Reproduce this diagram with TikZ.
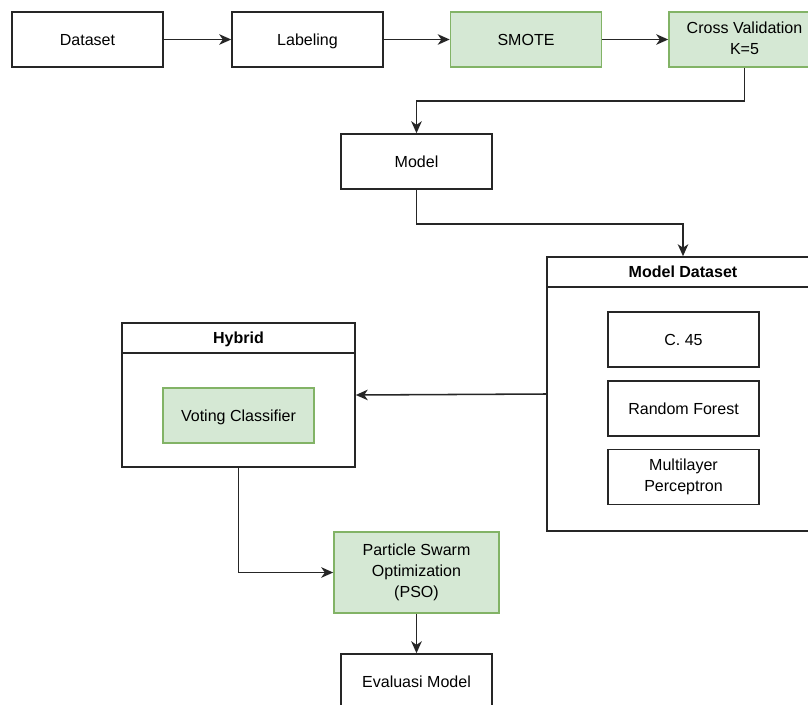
\documentclass[tikz,border=0pt]{standalone}
\usepackage{fontspec}
\setmainfont{Liberation Sans}
\usetikzlibrary{arrows.meta,positioning}
\definecolor{gfill}{HTML}{D5E8D4}
\definecolor{gline}{HTML}{82B366}
\newcommand\boxstrut{\rule[-2.3pt]{0pt}{12.8pt}}
\tikzset{
  box/.style={draw=black!85,line width=1.1pt,minimum width=3.775cm,minimum height=1.375cm,
    align=center,inner sep=2pt,font=\fontsize{11.4}{15}\selectfont,
    execute at begin node=\boxstrut,execute at end node=\boxstrut},
  greenbox/.style={box,draw=gline,fill=gfill},
  group/.style={draw=black!85,line width=1.1pt},
  grouptitle/.style={font=\fontsize{11.4}{15}\selectfont\bfseries,execute at begin node=\boxstrut},
  flow/.style={draw=black!85,line width=1.1pt,-{Stealth[length=8.5pt,width=7.5pt,inset=2.5pt]}}
}
\begin{document}
\begin{tikzpicture}[x=0.025cm,y=-0.025cm]
			\clip (0,0) rectangle (808,704);
			% top row
			\node[box] (dataset) at (87.5,39.5) {Dataset};
			\node[box] (labeling) at (307.5,39.5) {Labeling};
			\node[greenbox] (smote) at (526,39.5) {SMOTE};
			\node[greenbox] (cv) at (744.5,39.5) {Cross Validation\\K=5};
			\node[box] (model) at (416.5,161.5) {Model};
			% model dataset group
			\node[group,minimum width=6.8cm,minimum height=6.85cm] (mdset) at (683,394) {};
			\draw[group] ([yshift=-0.775cm]mdset.north west) -- ([yshift=-0.775cm]mdset.north east);
			\node[grouptitle] (mdsettitle) at ([yshift=-0.3875cm]mdset.north) {Model Dataset};
			\node[box] (c45) at (683.5,339.5) {C. 45};
			\node[box] (rf) at (683.5,408.5) {Random Forest};
			\node[box] (mlp) at (683.5,477) {Multilayer\\Perceptron};
			% hybrid group
			\node[group,minimum width=5.825cm,minimum height=3.6cm] (hybrid) at (238.5,395) {};
			\draw[group] ([yshift=-0.775cm]hybrid.north west) -- ([yshift=-0.775cm]hybrid.north east);
			\node[grouptitle] (hybridtitle) at ([yshift=-0.3875cm]hybrid.north) {Hybrid};
			\node[greenbox] (voting) at (238.5,415.5) {Voting Classifier};
			% bottom
			\node[greenbox,minimum width=4.125cm,minimum height=2.025cm] (pso) at (416.5,572.5) {Particle Swarm\\Optimization\\(PSO)};
			\node[box] (eval) at (416.5,681.5) {Evaluasi Model};
			% connectors
			\draw[flow] (dataset) -- (labeling);
			\draw[flow] (labeling) -- (smote);
			\draw[flow] (smote) -- (cv);
			\draw[flow] (cv.south) -- ++(0,33) -| (model.north);
			\draw[flow] (model.south) -- ++(0,34) -| (mdset.north);
			\draw[flow] (mdset.west) -- (hybrid.east);
			\draw[flow] (hybrid.south) |- (pso.west);
			\draw[flow] (pso) -- (eval);
		\end{tikzpicture}
\end{document}
